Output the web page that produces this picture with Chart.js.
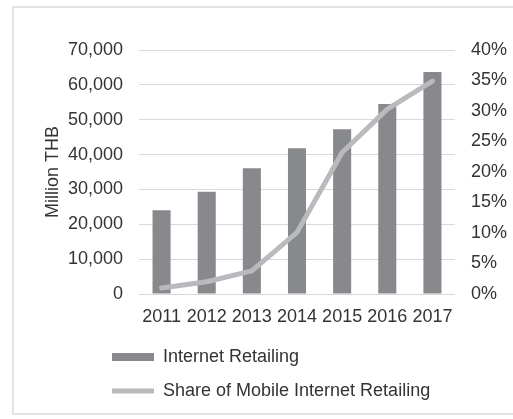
<!DOCTYPE html>
<html>
<head>
<meta charset="utf-8">
<script src="https://cdn.jsdelivr.net/npm/chart.js@4/dist/chart.umd.min.js"></script>
<style>
    html, body { margin: 0; padding: 0; background: #fff; }
    .frame {
        position: absolute;
        left: 12px;
        top: 6px;
        width: 520px;
        height: 409px;
        border: 2px solid #e3e3e3;
        box-sizing: border-box;
    }
    .wrap { position: absolute; left: 0; top: 0; width: 513px; height: 419px; }
</style>
</head>
<body>
<div class="frame"></div>
<div class="wrap"><canvas id="retailChart"></canvas></div>
<script>
// Internet retailing in Thailand, 2011-2017
const years = ['2011', '2012', '2013', '2014', '2015', '2016', '2017'];
const retailValues = [24000, 29300, 36100, 41800, 47300, 54500, 63700];   // Million THB
const mobileShare = [1, 2, 3.8, 10.1, 23.2, 30.3, 34.9];                  // percent

const valueAxis = [0, 70000, 10000];   // min, max, step
const shareAxis = [0, 40, 5];

const textColor = '#333333';
const fontFace = "'Liberation Sans', Arial, sans-serif";

// legend rows start under the plot, not at the canvas edge
const legendIndent = {
    id: 'legendIndent',
    afterLayout(chart) {
        chart.legend.left = 96;
    }
};

const ctx = document.getElementById('retailChart').getContext('2d');

new Chart(ctx, {
    type: 'bar',
    data: {
        labels: years,
        datasets: [{
            label: 'Internet Retailing',
            data: retailValues,
            backgroundColor: '#88898c',
            borderWidth: 0,
            categoryPercentage: 1,
            barPercentage: 0.4,
            pointStyle: 'rect',
            yAxisID: 'y',
            order: 1
        }, {
            type: 'line',
            label: 'Share of Mobile Internet Retailing',
            data: mobileShare,
            borderColor: '#b9babd',
            backgroundColor: '#b9babd',
            borderWidth: 5,
            borderCapStyle: 'round',
            borderJoinStyle: 'round',
            pointRadius: 0,
            pointStyle: 'line',
            tension: 0,
            yAxisID: 'y1',
            order: 0
        }]
    },
    options: {
        responsive: true,
        maintainAspectRatio: false,
        animation: false,
        layout: {
            padding: { left: 40, right: 0, top: 50, bottom: 9 }
        },
        plugins: {
            tooltip: { enabled: false },
            legend: {
                position: 'bottom',
                align: 'start',
                labels: {
                    color: textColor,
                    font: { family: fontFace, size: 18 },
                    usePointStyle: true,
                    pointStyleWidth: 42,
                    boxHeight: 8,
                    padding: 16,
                    sort: (a, b) => a.datasetIndex - b.datasetIndex
                }
            }
        },
        scales: {
            x: {
                grid: { display: false, drawTicks: false },
                border: { display: false },
                ticks: {
                    color: textColor,
                    font: { family: fontFace, size: 18 },
                    padding: 12,
                    maxRotation: 0,
                    autoSkip: false
                },
                afterFit: (scale) => { scale.height = 38; }
            },
            y: {
                position: 'left',
                min: valueAxis[0],
                max: valueAxis[1],
                grid: { color: '#d9d9d9', drawTicks: false },
                border: { display: false },
                ticks: {
                    stepSize: valueAxis[2],
                    color: textColor,
                    font: { family: fontFace, size: 18 },
                    padding: 16,
                    callback: (v) => v.toLocaleString('en-US')
                },
                title: {
                    display: true,
                    text: 'Million THB',
                    color: textColor,
                    font: { family: fontFace, size: 18 },
                    padding: { top: 2, bottom: 0 }
                },
                afterFit: (scale) => { scale.width = 99; }
            },
            y1: {
                position: 'right',
                min: shareAxis[0],
                max: shareAxis[1],
                grid: { display: false, drawTicks: false },
                border: { display: false },
                ticks: {
                    stepSize: shareAxis[2],
                    color: textColor,
                    font: { family: fontFace, size: 18 },
                    padding: 16,
                    callback: (v) => v + '%'
                },
                afterFit: (scale) => { scale.width = 58; }
            }
        }
    },
    plugins: [legendIndent]
});
</script>
</body>
</html>
